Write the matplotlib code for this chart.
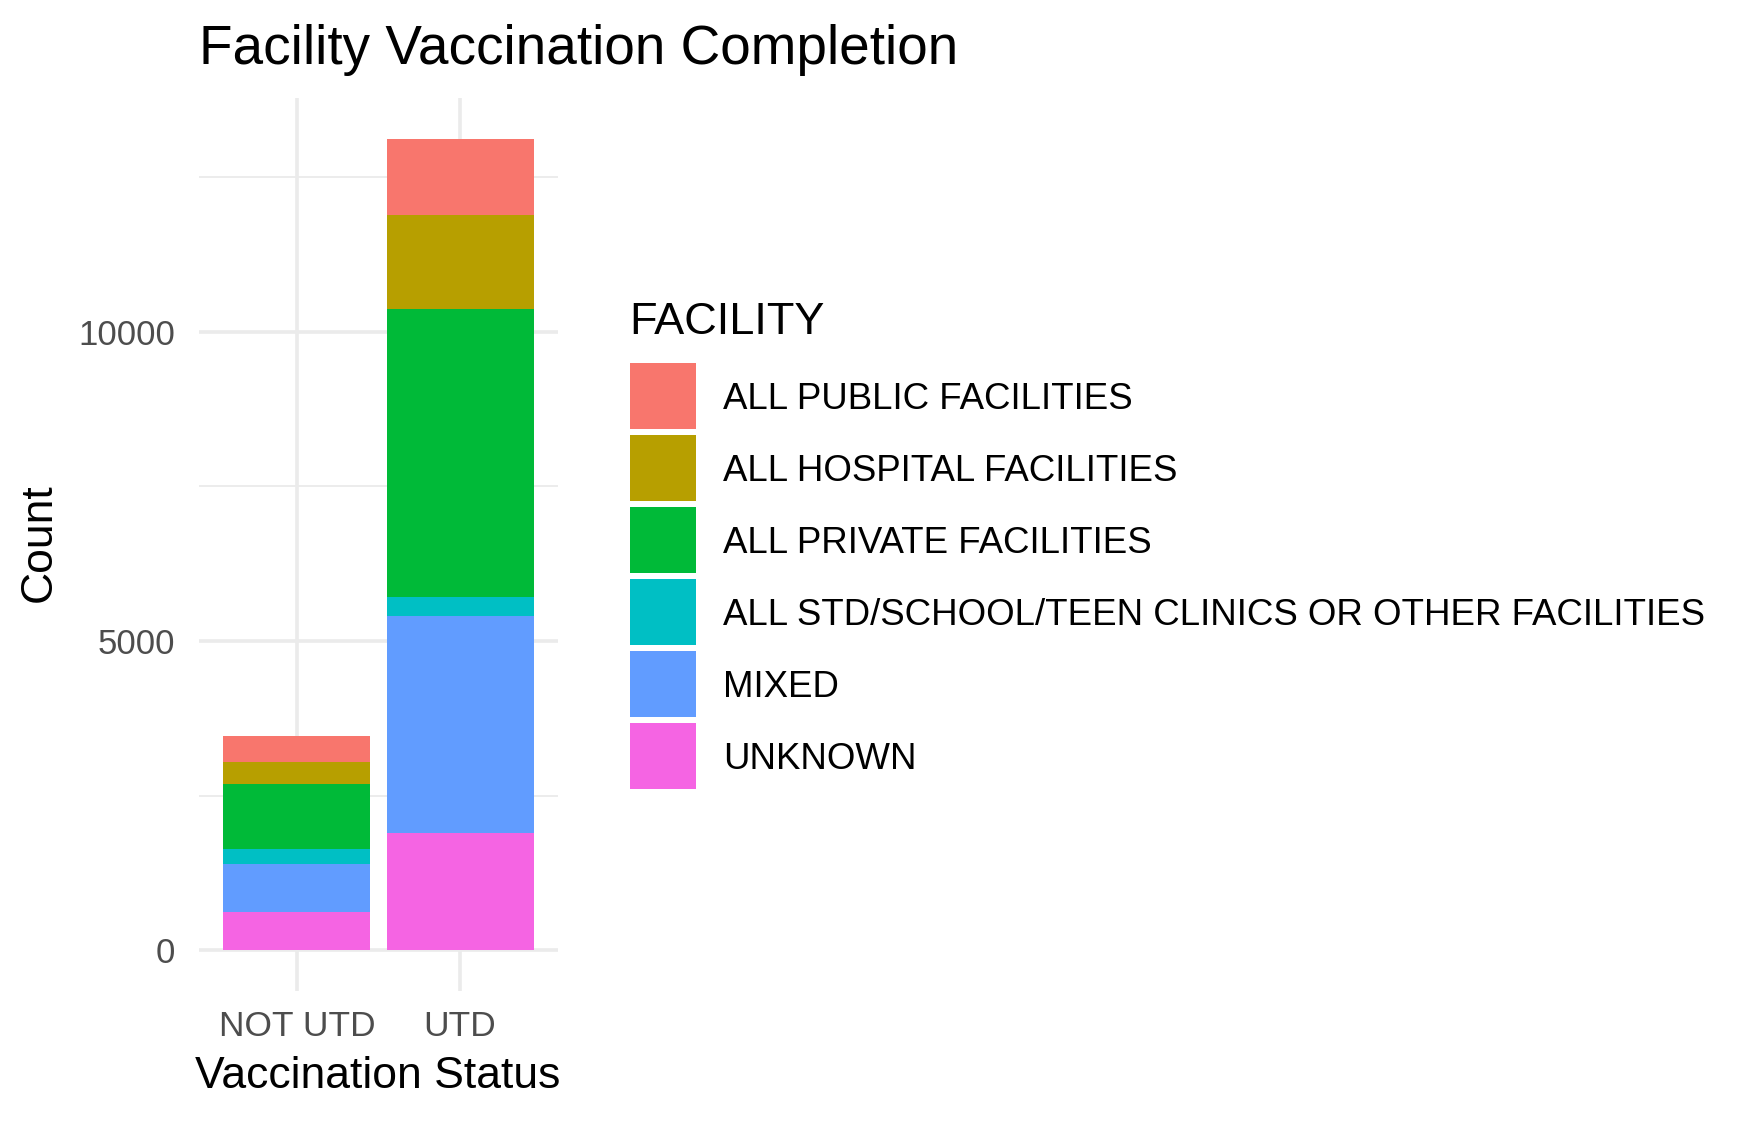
import matplotlib.pyplot as plt
from matplotlib.patches import Rectangle

STATUS = ["NOT UTD", "UTD"]
FACILITIES = [
    "ALL PUBLIC FACILITIES",
    "ALL HOSPITAL FACILITIES",
    "ALL PRIVATE FACILITIES",
    "ALL STD/SCHOOL/TEEN CLINICS OR OTHER FACILITIES",
    "MIXED",
    "UNKNOWN",
]
# counts per facility, in (NOT UTD, UTD) order
PUBLIC = [414, 1240]
HOSPITAL = [359, 1516]
PRIVATE = [1052, 4656]
STD_OTHER = [242, 301]
MIXED = [773, 3514]
UNKNOWN = [619, 1891]

COLORS = ["#F8766D", "#B79F00", "#00BA38", "#00BFC4", "#619CFF", "#F564E3"]
W, H = 1750, 1121
FONT = "Liberation Sans"
GRID = "#EBEBEB"
TICK_COLOR = "#4D4D4D"

plt.rcParams["font.family"] = [FONT, "DejaVu Sans"]


def fx(px):
    return px / W


def fy(py):
    return 1 - py / H


def main() -> None:
    fig = plt.figure(figsize=(W / 100, H / 100), dpi=100)
    ax = fig.add_axes([fx(199), fy(991), fx(558) - fx(199), fy(98) - fy(991)])

    series = [PUBLIC, HOSPITAL, PRIVATE, STD_OTHER, MIXED, UNKNOWN]
    x = list(range(len(STATUS)))

    # stack from bottom (UNKNOWN) up to PUBLIC, like ggplot's default order
    bottom = [0] * len(STATUS)
    for vals, color in zip(reversed(series), reversed(COLORS)):
        ax.bar(x, vals, width=0.9, bottom=bottom, color=color, linewidth=0, zorder=3)
        bottom = [b + v for b, v in zip(bottom, vals)]

    top = max(bottom)
    pad = top * 0.05
    ax.set_ylim(-pad, top + pad)
    ax.set_xlim(-0.6, len(STATUS) - 0.4)

    ax.set_yticks([0, 5000, 10000])
    ax.set_yticks([2500, 7500, 12500], minor=True)
    ax.set_xticks(x)
    ax.set_xticklabels(STATUS)
    ax.grid(True, which="major", color=GRID, lw=2.6, zorder=0)
    ax.grid(True, which="minor", axis="y", color=GRID, lw=1.3, zorder=0)
    ax.tick_params(axis="both", which="both", length=0, colors=TICK_COLOR,
                   labelsize=25)
    ax.tick_params(axis="y", pad=17)
    ax.tick_params(axis="x", pad=14, labelsize=25.5)
    for s in ax.spines.values():
        s.set_visible(False)

    fig.text(fx(199), fy(63.5), "Facility Vaccination Completion",
             fontsize=39.5, ha="left", va="baseline")
    fig.text(fx(378), fy(1088), "Vaccination Status", fontsize=32,
             ha="center", va="baseline")
    fig.text(fx(39), fy(543), "Count", fontsize=32, rotation=90,
             ha="center", va="center")

    # legend
    fig.text(fx(629), fy(333.5), "FACILITY", fontsize=32.5,
             ha="left", va="baseline")
    key_top, key_step, key_size = 363, 72, 66
    for i, (label, color) in enumerate(zip(FACILITIES, COLORS)):
        y0 = key_top + i * key_step
        fig.add_artist(Rectangle((fx(630), fy(y0 + key_size)), fx(66), key_size / H,
                                 transform=fig.transFigure, color=color, lw=0))
        fig.text(fx(723), fy(y0 + key_size / 2 + 13.3), label, fontsize=26.4,
                 ha="left", va="baseline")

    fig.savefig("out.png", dpi=100)


if __name__ == "__main__":
    main()
